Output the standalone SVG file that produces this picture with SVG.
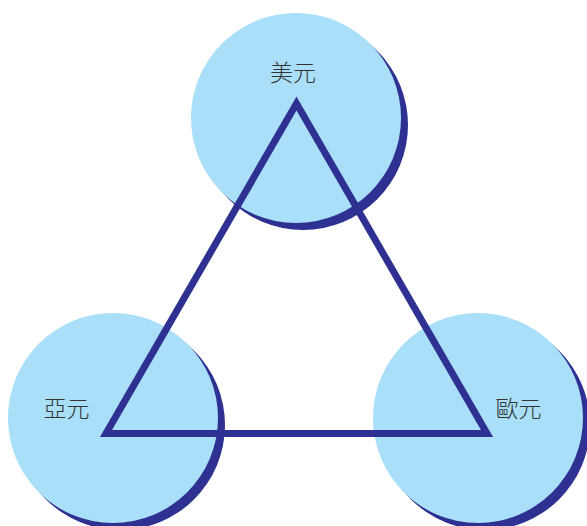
<svg xmlns="http://www.w3.org/2000/svg" width="587" height="526" viewBox="0 0 587 526">
<style>
.shadow{fill:#2e3192}
.disc{fill:#a9dff9}
.lbl{font-family:"Noto Sans CJK TC","Noto Sans CJK SC",sans-serif;font-size:23px;fill:#333;text-anchor:middle;font-weight:300}
.edge{fill:none;stroke:#2e3192;stroke-width:7;stroke-linejoin:miter;stroke-miterlimit:10}
</style>
<g id="node-usd">
<circle class="shadow" cx="303" cy="125" r="105"/>
<circle class="disc" cx="296" cy="118" r="105"/>
</g>
<g id="node-asia">
<circle class="shadow" cx="120" cy="425" r="105"/>
<circle class="disc" cx="113" cy="418" r="105"/>
</g>
<g id="node-eur">
<circle class="shadow" cx="485" cy="425" r="105"/>
<circle class="disc" cx="478" cy="418" r="105"/>
</g>
<g id="connectors">
<polygon class="edge" points="296.5,103.5 487,433.5 106,433.5"/>
</g>
<g id="labels">
<text class="lbl" x="293" y="81">美元</text>
<text class="lbl" x="66.5" y="417">亞元</text>
<text class="lbl" x="518.5" y="417">歐元</text>
</g>
</svg>
